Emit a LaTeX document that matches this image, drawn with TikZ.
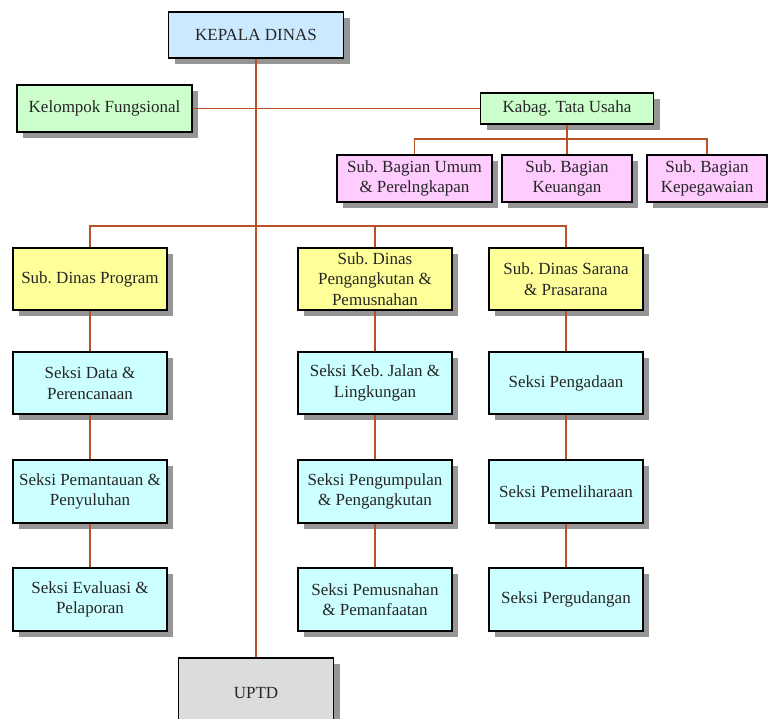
\documentclass[tikz,border=0pt]{standalone}
\usepackage{fontspec}
\setmainfont{Liberation Serif}
\usetikzlibrary{shadows}
\frenchspacing
\definecolor{linec}{RGB}{184,82,38}
\definecolor{shad}{RGB}{150,150,150}
\definecolor{cblue}{RGB}{204,234,255}
\definecolor{cgreen}{RGB}{204,255,204}
\definecolor{cpink}{RGB}{255,204,255}
\definecolor{cyell}{RGB}{255,255,153}
\definecolor{ccyan}{RGB}{204,255,255}
\definecolor{cgray}{RGB}{220,220,220}
\tikzset{
  box/.style={draw=black, line width=1.5pt, rectangle, inner sep=0pt, align=center,
    font=\fontsize{17}{20.5}\selectfont\frenchspacing, text=black!85,
    general shadow={fill=shad, shadow xshift=6pt, shadow yshift=-6pt}},
  conn/.style={draw=linec, line width=1.7pt},
}
\begin{document}
\begin{tikzpicture}[x=1pt,y=-1pt]
\useasboundingbox (0,0) rectangle (768,719);
% top
\node[box, fill=cblue, minimum width=175pt, minimum height=46pt] (kd) at (256,35) {KEPALA DINAS};
\node[box, fill=cgreen, minimum width=175pt, minimum height=47pt] (kf) at (104.5,108.5) {Kelompok Fungsional};
\node[box, fill=cgreen, minimum width=173pt, minimum height=31pt] (kb) at (567,108.5) {Kabag. Tata Usaha};
% sub bagian
\node[box, fill=cpink, minimum width=155pt, minimum height=47pt] (sb1) at (414.5,178.5) {Sub. Bagian Umum\\\& Perelngkapan};
\node[box, fill=cpink, minimum width=130pt, minimum height=47pt] (sb2) at (567,178.5) {Sub. Bagian\\Keuangan};
\node[box, fill=cpink, minimum width=120pt, minimum height=47pt] (sb3) at (707,178.5) {Sub. Bagian\\Kepegawaian};
% sub dinas
\node[box, fill=cyell, minimum width=154pt, minimum height=62pt] (sd1) at (90,279) {Sub. Dinas Program};
\node[box, fill=cyell, minimum width=154pt, minimum height=62pt] (sd2) at (375,279) {Sub. Dinas\\Pengangkutan \&\\Pemusnahan};
\node[box, fill=cyell, minimum width=154pt, minimum height=62pt] (sd3) at (566,279) {Sub. Dinas Sarana\\\& Prasarana};
% seksi row 2
\node[box, fill=ccyan, minimum width=154pt, minimum height=62pt] (a1) at (90,383) {Seksi Data \&\\Perencanaan};
\node[box, fill=ccyan, minimum width=154pt, minimum height=62pt] (b1) at (375,383) {Seksi Keb. Jalan \&\\Lingkungan};
\node[box, fill=ccyan, minimum width=154pt, minimum height=62pt] (c1) at (566,383) {Seksi Pengadaan};
% row 3
\node[box, fill=ccyan, minimum width=154pt, minimum height=63pt] (a2) at (90,491.5) {Seksi Pemantauan \&\\Penyuluhan};
\node[box, fill=ccyan, minimum width=154pt, minimum height=63pt] (b2) at (375,491.5) {Seksi Pengumpulan\\\& Pengangkutan};
\node[box, fill=ccyan, minimum width=154pt, minimum height=63pt] (c2) at (566,491.5) {Seksi Pemeliharaan};
% row 4
\node[box, fill=ccyan, minimum width=154pt, minimum height=63pt] (a3) at (90,599.5) {Seksi Evaluasi \&\\Pelaporan};
\node[box, fill=ccyan, minimum width=154pt, minimum height=63pt] (b3) at (375,599.5) {Seksi Pemusnahan\\\& Pemanfaatan};
\node[box, fill=ccyan, minimum width=154pt, minimum height=63pt] (c3) at (566,599.5) {Seksi Pergudangan};
% uptd
\node[box, fill=cgray, minimum width=155pt, minimum height=70pt] (up) at (256,693) {UPTD};
% connectors
\coordinate (busT) at (567,139);
\coordinate (busM) at (256,226);
\draw[conn] (kd.south) -- (up.north);
\draw[conn] (kf.east) -- (kb.west);
\draw[conn] (kb.south) -- (sb2.north);
\draw[conn] (sb1.north) |- (busT) -| (sb3.north);
\draw[conn] (sd1.north) |- (busM) -| (sd3.north);
\draw[conn] (sd2.north) -- (sd2.north |- busM);
\draw[conn] (sd1) -- (a1) -- (a2) -- (a3);
\draw[conn] (sd2) -- (b1) -- (b2) -- (b3);
\draw[conn] (sd3) -- (c1) -- (c2) -- (c3);
\end{tikzpicture}
\end{document}
